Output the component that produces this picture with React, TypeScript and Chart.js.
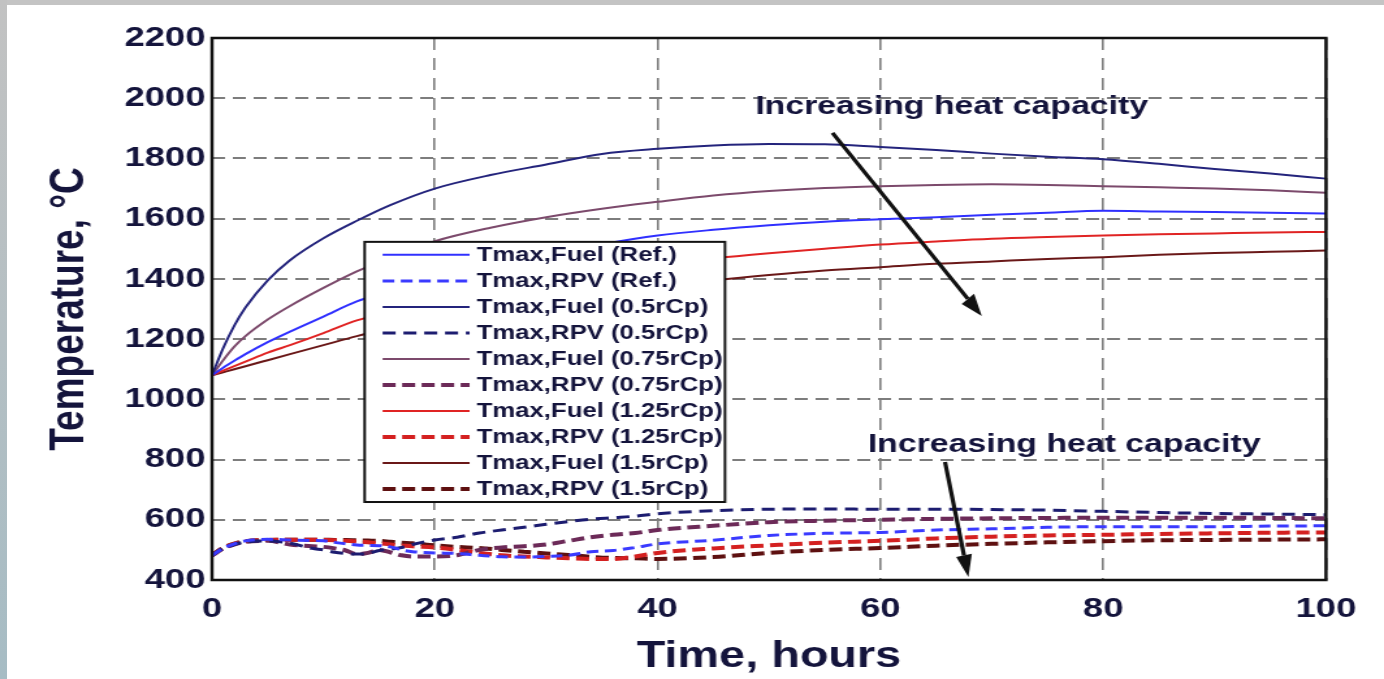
import React, { useEffect, useRef } from 'react';
import { Chart, registerables } from 'chart.js';

Chart.register(...registerables);

// ---------- data ----------
const fuelHours = [0, 1, 2, 3, 5, 7, 10, 13, 16, 20, 25, 30, 35, 40, 45, 50, 55, 60, 65, 70, 75, 80, 85, 90, 95, 100];
const fuelRef = [1080, 1105, 1128, 1150, 1190, 1225, 1275, 1325, 1360, 1400, 1440, 1480, 1515, 1544, 1563, 1578, 1590, 1598, 1605, 1613, 1620, 1626, 1624, 1622, 1620, 1617];
const fuel05 = [1080, 1170, 1245, 1305, 1395, 1462, 1535, 1593, 1645, 1700, 1745, 1780, 1815, 1832, 1843, 1848, 1847, 1838, 1828, 1816, 1806, 1797, 1782, 1765, 1750, 1733];
const fuel075 = [1080, 1130, 1175, 1210, 1265, 1310, 1370, 1425, 1470, 1525, 1570, 1605, 1633, 1656, 1677, 1692, 1702, 1708, 1712, 1714, 1712, 1708, 1704, 1700, 1694, 1686];
const fuel125 = [1080, 1095, 1110, 1125, 1155, 1180, 1220, 1262, 1290, 1320, 1360, 1395, 1425, 1447, 1468, 1485, 1500, 1514, 1524, 1533, 1539, 1544, 1548, 1551, 1554, 1556];
const fuel15 = [1080, 1090, 1100, 1110, 1130, 1150, 1180, 1210, 1235, 1265, 1300, 1330, 1352, 1372, 1395, 1413, 1428, 1439, 1450, 1458, 1466, 1472, 1480, 1486, 1490, 1494];

const rpvHours = [0, 1, 2, 3, 5, 7, 9, 10, 11, 12, 13, 14, 15, 16, 17, 18, 20, 22, 24, 26, 28, 30, 32, 34, 36, 38, 40, 45, 50, 55, 60, 65, 70, 75, 80, 85, 90, 95, 100];
const rpvRef = [482, 505, 520, 530, 535, 533, 531, 530, 525, 520, 516, 515, 514, 510, 500, 494, 490, 488, 482, 477, 476, 478, 482, 494, 498, 508, 520, 532, 548, 555, 558, 566, 570, 575, 577, 577, 577, 579, 580];
const rpv05 = [482, 505, 518, 526, 530, 522, 505, 500, 492, 488, 486, 488, 498, 502, 508, 518, 533, 542, 556, 566, 575, 585, 594, 602, 607, 612, 620, 630, 635, 636, 635, 635, 634, 632, 628, 624, 621, 619, 617];
const rpv075 = [482, 505, 518, 527, 530, 518, 512, 510, 505, 498, 486, 490, 500, 492, 482, 478, 478, 482, 500, 508, 512, 518, 530, 542, 550, 556, 566, 580, 592, 597, 600, 603, 605, 606, 607, 607, 607, 606, 605];
const rpv125 = [482, 506, 520, 528, 533, 534, 534, 533, 532, 530, 528, 525, 522, 518, 515, 512, 508, 500, 490, 482, 478, 475, 472, 470, 470, 478, 490, 505, 515, 524, 530, 538, 544, 548, 550, 553, 555, 557, 558];
const rpv15 = [482, 507, 521, 529, 533, 534, 534, 534, 533, 533, 532, 531, 530, 527, 524, 522, 515, 510, 506, 500, 494, 488, 483, 477, 473, 472, 470, 476, 490, 500, 506, 514, 520, 525, 529, 532, 533, 534, 535];

const seriesLabels = [
  'Tmax,Fuel (Ref.)',
  'Tmax,RPV (Ref.)',
  'Tmax,Fuel (0.5rCp)',
  'Tmax,RPV (0.5rCp)',
  'Tmax,Fuel (0.75rCp)',
  'Tmax,RPV (0.75rCp)',
  'Tmax,Fuel (1.25rCp)',
  'Tmax,RPV (1.25rCp)',
  'Tmax,Fuel (1.5rCp)',
  'Tmax,RPV (1.5rCp)',
];

const xTitle = 'Time, hours';
const yTitle = 'Temperature, °C';
const noteText = 'Increasing heat capacity';

// annotation anchors in data units (hours, °C)
const noteTop = { x: 66.4, y: 1971 };
const arrowTop = { x1: 55.7, y1: 1885, x2: 69.1, y2: 1277 };
const noteBottom = { x: 76.5, y: 848 };
const arrowBottom = { x1: 65.8, y1: 792, x2: 67.9, y2: 410 };
const legendBox = { x1: 13.7, y1: 1523, x2: 46.05, y2: 659 };

// ---------- layout ----------
const CSS_W = 1384;
const CSS_H = 679;
const CANVAS_W = 1064;
const S = CSS_W / CANVAS_W;
const TEXT = '#14143c';
const FONT = "'Liberation Sans', Arial, Helvetica, sans-serif";

const pts = (xs: number[], ys: number[]) => xs.map((x, i) => ({ x, y: ys[i] }));

const notesPlugin = {
  id: 'notesAndFrame',
  afterDatasetsDraw(chart: any) {
    const { ctx, chartArea: a, scales } = chart;
    const xs = scales.x;
    const ys = scales.y;
    ctx.save();

    // plot frame
    ctx.strokeStyle = '#111111';
    ctx.lineWidth = 2.5;
    ctx.setLineDash([]);
    ctx.strokeRect(a.left, a.top, a.right - a.left, a.bottom - a.top);

    // arrows
    const arrow = (ar: any) => {
      const x1 = xs.getPixelForValue(ar.x1);
      const y1 = ys.getPixelForValue(ar.y1);
      const x2 = xs.getPixelForValue(ar.x2);
      const y2 = ys.getPixelForValue(ar.y2);
      const dxr = (x2 - x1) * S;
      const dyr = y2 - y1;
      const len = Math.hypot(dxr, dyr);
      const ux = dxr / len;
      const uy = dyr / len;
      const L = 22;
      const W = 8;
      const bx = x2 * S - ux * L;
      const by = y2 - uy * L;
      ctx.strokeStyle = '#111111';
      ctx.fillStyle = '#111111';
      ctx.lineWidth = 3.2;
      ctx.beginPath();
      ctx.moveTo(x1, y1);
      ctx.lineTo(bx / S, by);
      ctx.stroke();
      ctx.beginPath();
      ctx.moveTo(x2, y2);
      ctx.lineTo((bx - uy * W) / S, by + ux * W);
      ctx.lineTo((bx + uy * W) / S, by - ux * W);
      ctx.closePath();
      ctx.fill();
    };
    arrow(arrowTop);
    arrow(arrowBottom);

    ctx.fillStyle = TEXT;
    ctx.font = `bold 26px ${FONT}`;
    ctx.textAlign = 'center';
    ctx.textBaseline = 'middle';
    ctx.fillText(noteText, xs.getPixelForValue(noteTop.x), ys.getPixelForValue(noteTop.y));
    ctx.fillText(noteText, xs.getPixelForValue(noteBottom.x), ys.getPixelForValue(noteBottom.y));

    // legend
    const lx1 = xs.getPixelForValue(legendBox.x1);
    const lx2 = xs.getPixelForValue(legendBox.x2);
    const ly1 = ys.getPixelForValue(legendBox.y1);
    const ly2 = ys.getPixelForValue(legendBox.y2);
    ctx.fillStyle = '#ffffff';
    ctx.fillRect(lx1, ly1, lx2 - lx1, ly2 - ly1);
    ctx.strokeStyle = '#111111';
    ctx.lineWidth = 2;
    ctx.strokeRect(lx1, ly1, lx2 - lx1, ly2 - ly1);
    const rowH = (ly2 - ly1) / chart.data.datasets.length;
    chart.data.datasets.forEach((ds: any, i: number) => {
      const cy = ly1 + rowH * (i + 0.5);
      ctx.save();
      ctx.strokeStyle = ds.borderColor;
      ctx.lineWidth = ds.borderWidth;
      ctx.setLineDash(ds.borderDash || []);
      ctx.beginPath();
      ctx.moveTo(lx1 + 13.8, cy);
      ctx.lineTo(lx1 + 80.7, cy);
      ctx.stroke();
      ctx.restore();
      ctx.fillStyle = TEXT;
      ctx.font = `bold 19.8px ${FONT}`;
      ctx.textAlign = 'left';
      ctx.textBaseline = 'middle';
      ctx.fillText(ds.label, lx1 + 86.1, cy + 1);
    });
    ctx.restore();
  },
};

export default function App() {
  const ref = useRef<HTMLCanvasElement | null>(null);

  useEffect(() => {
    if (!ref.current) return;
    const line = (label: string, xs: number[], ys: number[], color: string, width: number, dash: number[]) => ({
      label,
      data: pts(xs, ys),
      borderColor: color,
      backgroundColor: color,
      borderWidth: width,
      borderDash: dash,
      pointRadius: 0,
      cubicInterpolationMode: 'monotone',
      fill: false,
    });

    const datasets = [
      line(seriesLabels[0], fuelHours, fuelRef, '#3030ff', 2, []),
      line(seriesLabels[1], rpvHours, rpvRef, '#3a3aff', 3, [9, 5]),
      line(seriesLabels[2], fuelHours, fuel05, '#24247c', 2, []),
      line(seriesLabels[3], rpvHours, rpv05, '#1c1c70', 3, [10, 6]),
      line(seriesLabels[4], fuelHours, fuel075, '#7c4a6c', 2, []),
      line(seriesLabels[5], rpvHours, rpv075, '#6c2a58', 4, [10, 5]),
      line(seriesLabels[6], fuelHours, fuel125, '#e02424', 2, []),
      line(seriesLabels[7], rpvHours, rpv125, '#d42020', 4, [10, 5]),
      line(seriesLabels[8], fuelHours, fuel15, '#6a1818', 2, []),
      line(seriesLabels[9], rpvHours, rpv15, '#5e1010', 4, [10, 5]),
    ];

    const tickFont = { family: FONT, size: 28, weight: 'bold' as const };
    const chart = new Chart(ref.current, {
      type: 'line',
      data: { datasets: datasets as any },
      options: {
        responsive: false,
        animation: false,
        devicePixelRatio: 1,
        layout: { padding: { top: 38, right: CANVAS_W - 1326 / S, bottom: 0, left: 0 } },
        plugins: { legend: { display: false }, tooltip: { enabled: false } },
        scales: {
          x: {
            type: 'linear',
            min: 0,
            max: 100,
            ticks: {
              stepSize: 20,
              padding: 12,
              color: TEXT,
              font: tickFont,
              maxRotation: 0,
              callback: (v: any) => String(v),
            },
            grid: { color: '#7d7d7d', lineWidth: 1.6, drawTicks: false },
            border: { display: false, dash: [12, 8] },
            title: {
              display: true,
              text: xTitle,
              color: TEXT,
              font: { family: FONT, size: 36, weight: 'bold' },
              padding: { top: 0, bottom: 0 },
            },
            afterFit(scale: any) {
              scale.height = 99;
            },
          },
          y: {
            type: 'linear',
            min: 400,
            max: 2200,
            ticks: { stepSize: 200, padding: 5, color: TEXT, font: tickFont, callback: (v: any) => String(v) },
            grid: { color: '#7d7d7d', lineWidth: 2, drawTicks: false },
            border: { display: false, dash: [10, 6] },
            title: {
              display: true,
              text: yTitle,
              color: TEXT,
              font: { family: FONT, size: 37, weight: 'bold' },
              padding: { top: 32, bottom: 0 },
            },
            afterFit(scale: any) {
              scale.width = 163;
            },
          },
        },
      } as any,
      plugins: [notesPlugin],
    });
    return () => chart.destroy();
  }, []);

  return (
    <div
      style={{
        position: 'fixed',
        left: 0,
        top: 0,
        width: CSS_W,
        height: CSS_H,
        background: '#ffffff',
        overflow: 'hidden',
      }}
    >
      <div style={{ position: 'absolute', left: 0, top: 0, width: CSS_W, height: 5, background: '#c4c4c4' }} />
      <div
        style={{
          position: 'absolute',
          left: 0,
          top: 0,
          width: 7,
          height: CSS_H,
          background: 'linear-gradient(to bottom, #c2c2c2, #a6bcc4)',
        }}
      />
      <canvas
        ref={ref}
        width={CANVAS_W}
        height={CSS_H}
        style={{ position: 'absolute', left: 0, top: 0, width: `${CSS_W}px`, height: `${CSS_H}px` }}
      />
    </div>
  );
}
